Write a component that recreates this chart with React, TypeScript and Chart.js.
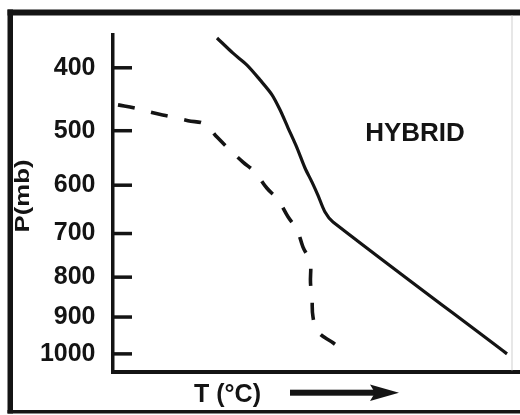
import React, { useEffect, useRef } from 'react';
import { Chart, registerables } from 'chart.js';

Chart.register(...registerables);

// Pressure axis is drawn on a p^0.286 (Stüve-like) scale, top = low pressure
const KAPPA = 0.286;
const PRESSURE_TICKS = [400, 500, 600, 700, 800, 900, 1000];
const P_TOP = 354;
const P_BOTTOM = 1052;
const T_MIN = -60;
const T_MAX = 21.5;

// Environmental temperature profile (solid)
const ENV_T = [-39.1, -35.9, -33.1, -30.5, -28.1, -26.5, -24.9, -23.1, -21.5, -20.1, -18.9, -17.5, -15.9, 18.9];
const ENV_P = [358, 379, 396, 418, 441, 465, 495, 530, 567, 594, 620, 654, 675, 1000];

// Dew point profile (dashed)
const DEW_T = [-58.9, -55.5, -51.9, -48.5, -44.9, -41.5, -39.1, -36.5, -33.9, -31.5, -29.1, -26.9, -24.9, -23.1, -21.9, -20.5, -20.4, -20.1, -19.9, -18.9, -15.9, -13.5];
const DEW_P = [457, 462, 470, 476, 483, 489, 511, 534, 556, 575, 606, 629, 664, 692, 730, 764, 814, 851, 900, 939, 969, 994];

const Y_TITLE = 'P(mb)';
const X_TITLE = 'T (°C)';
const LABEL = 'HYBRID';

const FONT = '"Liberation Sans", Arial, Helvetica, sans-serif';
const INK = '#141414';

const kap = (p: number) => Math.pow(p, KAPPA);

const decorPlugin = {
  id: 'decor',
  afterDraw(chart: any) {
    const ctx = chart.ctx as CanvasRenderingContext2D;
    const area = chart.chartArea;
    const yScale = chart.scales.y;
    ctx.save();
    ctx.fillStyle = INK;
    ctx.strokeStyle = INK;

    // outer frame
    ctx.fillRect(7.5, 9.5, 512.5, 6);
    ctx.fillRect(7.5, 9.5, 5.5, 404);
    ctx.fillRect(7.5, 410, 512.5, 3.5);
    ctx.fillStyle = '#d0d0d0';
    ctx.fillRect(511.5, 15.5, 1, 355);
    ctx.fillStyle = INK;

    // inward tick marks on the pressure axis
    ctx.lineWidth = 3.5;
    ctx.lineCap = 'butt';
    PRESSURE_TICKS.forEach((p) => {
      const y = yScale.getPixelForValue(kap(p));
      ctx.beginPath();
      ctx.moveTo(area.left, y);
      ctx.lineTo(area.left + 19.5, y);
      ctx.stroke();
    });

    // HYBRID label
    ctx.font = `bold 26px ${FONT}`;
    ctx.textAlign = 'center';
    ctx.textBaseline = 'middle';
    ctx.fillText(LABEL, 415, 134);

    // x title + arrow
    ctx.font = `bold 25px ${FONT}`;
    ctx.textBaseline = 'alphabetic';
    ctx.fillText(X_TITLE, 227.5, 401.5);
    ctx.fillRect(290, 389.7, 86, 6);
    ctx.beginPath();
    ctx.moveTo(370, 384.5);
    ctx.lineTo(399, 392.7);
    ctx.lineTo(370, 401);
    ctx.lineTo(375, 392.7);
    ctx.closePath();
    ctx.fill();

    // y title (rotated)
    ctx.font = `bold 21px ${FONT}`;
    const w = ctx.measureText(Y_TITLE).width;
    ctx.translate(28.5, 196);
    ctx.rotate(-Math.PI / 2);
    ctx.scale(73 / w, 1);
    ctx.textAlign = 'center';
    ctx.fillText(Y_TITLE, 0, 0);
    ctx.restore();
  },
};

export default function App() {
  const canvasRef = useRef<HTMLCanvasElement | null>(null);

  useEffect(() => {
    const canvas = canvasRef.current;
    if (!canvas) return;
    const chart = new Chart(canvas, {
      type: 'line',
      data: {
        datasets: [
          {
            label: 'Temperature',
            data: ENV_T.map((t, i) => ({ x: t, y: kap(ENV_P[i]) })),
            borderColor: INK,
            borderWidth: 3.2,
            tension: 0.3,
            pointRadius: 0,
            fill: false,
          },
          {
            label: 'Dew point',
            data: DEW_T.map((t, i) => ({ x: t, y: kap(DEW_P[i]) })),
            borderColor: INK,
            borderWidth: 3.6,
            borderDash: [17, 17],
            borderCapStyle: 'butt',
            tension: 0.4,
            pointRadius: 0,
            fill: false,
          },
        ],
      },
      options: {
        animation: false,
        responsive: false,
        devicePixelRatio: 1,
        parsing: false,
        layout: { padding: { top: 35, left: 0, right: 0, bottom: 0 } },
        plugins: {
          legend: { display: false },
          tooltip: { enabled: false },
        },
        scales: {
          x: {
            type: 'linear',
            min: T_MIN,
            max: T_MAX,
            ticks: { display: false },
            grid: { display: false, drawTicks: false },
            border: { display: true, width: 4, color: INK },
            afterFit: (s: any) => {
              s.height = 43;
            },
          },
          y: {
            type: 'linear',
            reverse: true,
            min: kap(P_TOP),
            max: kap(P_BOTTOM),
            afterBuildTicks: (s: any) => {
              s.ticks = PRESSURE_TICKS.map((p) => ({ value: kap(p) }));
            },
            ticks: {
              autoSkip: false,
              padding: 17,
              color: INK,
              font: { family: FONT, size: 25, weight: 'bold' },
              callback: (_v: any, i: number) => String(PRESSURE_TICKS[i]),
            },
            grid: { display: false, drawTicks: false },
            border: { display: true, width: 3.5, color: INK },
            afterFit: (s: any) => {
              s.width = 112.5;
            },
          },
        },
      },
      plugins: [decorPlugin],
    } as any);
    return () => chart.destroy();
  }, []);

  return (
    <div style={{ position: 'absolute', left: 0, top: 0, width: 520, height: 415, background: '#fff' }}>
      <canvas ref={canvasRef} width={520} height={415} style={{ display: 'block' }} />
    </div>
  );
}
